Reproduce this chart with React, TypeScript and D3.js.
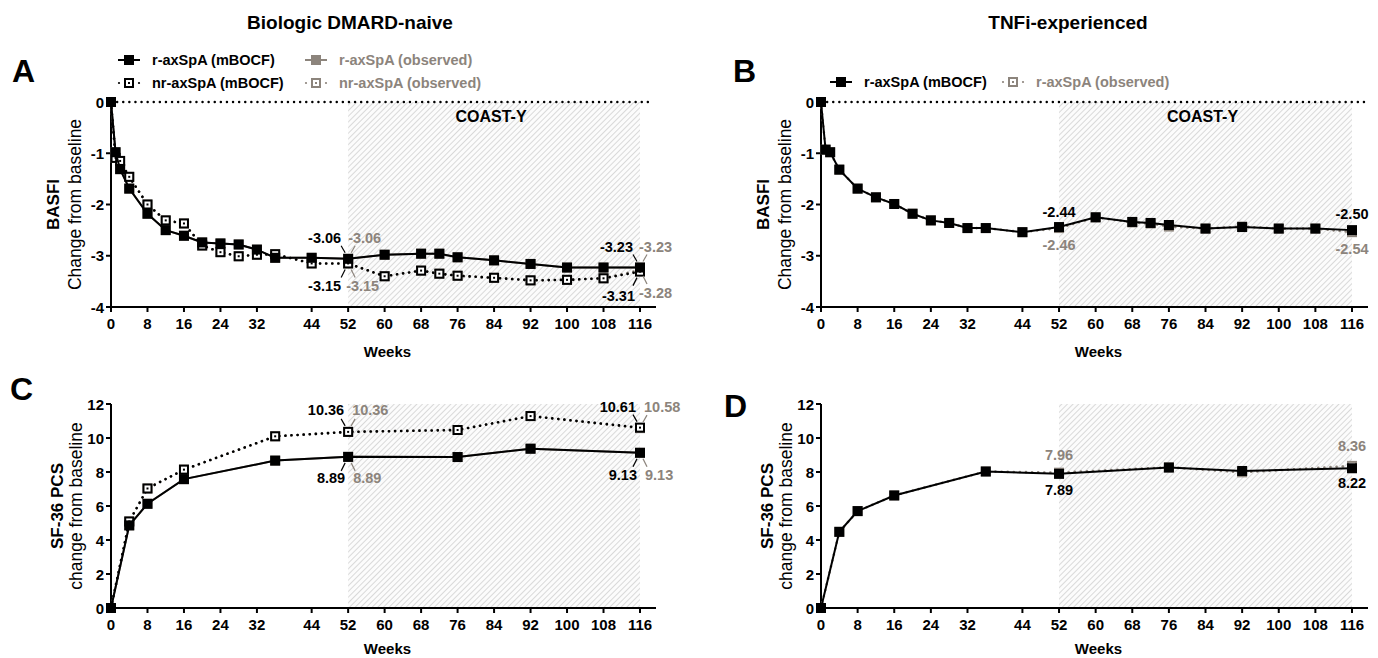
import React from "react";
import * as d3 from "d3";

// ---------- DATA ----------
const weeksLong = [0, 1, 2, 4, 8, 12, 16, 20, 24, 28, 32, 36, 44, 52, 60, 68, 72, 76, 84, 92, 100, 108, 116];
const weeksShort = [0, 4, 8, 16, 36, 52, 76, 92, 116];
const xTickValues = [0, 8, 16, 24, 32, 44, 52, 60, 68, 76, 84, 92, 100, 108, 116];
const basfiTicks = [0, -1, -2, -3, -4];
const sfTicks = [0, 2, 4, 6, 8, 10, 12];

// Panel A (BASFI, biologic DMARD-naive)
const aRMbocf = [0, -0.98, -1.31, -1.69, -2.18, -2.5, -2.61, -2.74, -2.76, -2.78, -2.88, -3.04, -3.04, -3.06, -2.98, -2.96, -2.96, -3.03, -3.09, -3.16, -3.23, -3.23, -3.23];
const aNrMbocf = [0, -1.09, -1.15, -1.46, -2.0, -2.31, -2.37, -2.8, -2.93, -3.01, -2.98, -2.97, -3.15, -3.15, -3.4, -3.29, -3.35, -3.39, -3.43, -3.48, -3.47, -3.44, -3.31];
const aRObs = [0, -0.98, -1.31, -1.69, -2.18, -2.5, -2.61, -2.74, -2.76, -2.78, -2.88, -3.04, -3.04, -3.06, -2.98, -2.96, -2.96, -3.03, -3.09, -3.16, -3.23, -3.23, -3.23];
const aNrObs = [0, -1.09, -1.15, -1.46, -2.0, -2.31, -2.37, -2.8, -2.93, -3.01, -2.98, -2.97, -3.15, -3.15, -3.4, -3.29, -3.35, -3.39, -3.43, -3.48, -3.47, -3.44, -3.28];

// Panel B (BASFI, TNFi-experienced)
const bRMbocf = [0, -0.93, -0.98, -1.32, -1.69, -1.86, -1.99, -2.18, -2.31, -2.36, -2.46, -2.46, -2.54, -2.44, -2.25, -2.34, -2.36, -2.4, -2.47, -2.44, -2.47, -2.47, -2.5];
const bRObs = [0, -0.93, -0.98, -1.32, -1.69, -1.86, -1.99, -2.18, -2.31, -2.36, -2.46, -2.46, -2.54, -2.46, -2.25, -2.35, -2.37, -2.43, -2.47, -2.43, -2.47, -2.47, -2.54];

// Panel C (SF-36 PCS, biologic DMARD-naive)
const cRMbocf = [0, 4.86, 6.13, 7.58, 8.67, 8.89, 8.88, 9.37, 9.13];
const cNrMbocf = [0, 5.09, 7.03, 8.14, 10.1, 10.36, 10.47, 11.29, 10.61];
const cRObs = [0, 4.86, 6.13, 7.58, 8.67, 8.89, 8.88, 9.37, 9.13];
const cNrObs = [0, 5.09, 7.03, 8.14, 10.1, 10.36, 10.47, 11.29, 10.58];

// Panel D (SF-36 PCS, TNFi-experienced)
const dRMbocf = [0, 4.48, 5.7, 6.62, 8.03, 7.89, 8.26, 8.06, 8.22];
const dRObs = [0, 4.48, 5.7, 6.62, 8.03, 7.96, 8.28, 7.98, 8.36];

// ---------- STYLE ----------
const BLACK = "#000";
const GRAY = "#8c847c";
const FONT = "Arial, 'Liberation Sans', Helvetica, sans-serif";

type Series = { weeks: number[]; values: number[]; color: string; open: boolean; dotted: boolean };
type Ann = { week: number; value: number; text: string; color: string; anchor: string; dx: number; dy: number; leader?: [number, number, number, number] };

type PanelProps = {
  x0: number; x1: number; yTop: number; yBot: number;
  yDomain: [number, number]; yTicks: number[];
  series: Series[]; anns: Ann[];
  zeroLine: boolean; coast: boolean; weeksDy: number;
  label1: string; label2: string; lx1: number; lx2: number;
  letter: string; letterX: number; letterY: number;
};

function Marker({ x, y, color, open }: { x: number; y: number; color: string; open: boolean }) {
  const s = 10;
  if (open) {
    return (
      <g>
        <rect x={x - s / 2 + 1} y={y - s / 2 + 1} width={s - 2} height={s - 2} fill="#fff" stroke={color} strokeWidth={2} />
        <rect x={x - 1} y={y - 1} width={2} height={2} fill={color} />
      </g>
    );
  }
  return <rect x={x - s / 2} y={y - s / 2} width={s} height={s} fill={color} />;
}

function Panel(p: PanelProps) {
  const xs = d3.scaleLinear().domain([0, 116]).range([p.x0, p.x1]);
  const ys = d3.scaleLinear().domain(p.yDomain).range([p.yBot, p.yTop]);
  const line = d3.line<[number, number]>().x((d) => xs(d[0])).y((d) => ys(d[1]));
  const axisY = p.yBot;
  const fs = 15;
  const yMid = (p.yTop + p.yBot) / 2;
  return (
    <g>
      {p.coast && (
        <rect x={xs(52)} y={p.yTop} width={xs(116) - xs(52)} height={p.yBot - p.yTop} fill="url(#hatch)" />
      )}
      {p.coast && p.zeroLine && (
        <text x={(xs(52) + xs(116)) / 2 - 3} y={p.yTop + 20} fontSize={16} fontWeight="bold" fontFamily={FONT} textAnchor="middle" fill={BLACK}>COAST-Y</text>
      )}
      {p.zeroLine && (
        <line x1={p.x0} x2={p.x1 + 13} y1={ys(0)} y2={ys(0)} stroke={BLACK} strokeWidth={2.4} strokeDasharray="0.1,6" strokeLinecap="round" />
      )}
      {/* axes */}
      <line x1={p.x0} x2={p.x0} y1={p.yTop} y2={axisY} stroke={BLACK} strokeWidth={2} />
      <line x1={p.x0 - 1} x2={p.x1 + 16} y1={axisY} y2={axisY} stroke={BLACK} strokeWidth={2} />
      {p.yTicks.map((t) => (
        <g key={"yt" + t}>
          <line x1={p.x0 - 5} x2={p.x0} y1={ys(t)} y2={ys(t)} stroke={BLACK} strokeWidth={2} />
          <text x={p.x0 - 7} y={ys(t) + 5.5} fontSize={fs} fontWeight="bold" fontFamily={FONT} textAnchor="end">{t}</text>
        </g>
      ))}
      {xTickValues.map((t) => (
        <g key={"xt" + t}>
          <line x1={xs(t)} x2={xs(t)} y1={axisY} y2={axisY + 5} stroke={BLACK} strokeWidth={2} />
          <text x={xs(t)} y={axisY + 22} fontSize={fs} fontWeight="bold" fontFamily={FONT} textAnchor="middle">{t}</text>
        </g>
      ))}
      <text x={(p.x0 + p.x1) / 2 + 12} y={axisY + p.weeksDy} fontSize={15} fontWeight="bold" fontFamily={FONT} textAnchor="middle">Weeks</text>
      <text transform={`translate(${p.lx1},${yMid}) rotate(-90)`} fontSize={17} fontWeight="bold" fontFamily={FONT} textAnchor="middle">{p.label1}</text>
      <text transform={`translate(${p.lx2},${yMid}) rotate(-90)`} fontSize={17.5} fontFamily={FONT} textAnchor="middle">{p.label2}</text>
      <text x={p.letterX} y={p.letterY} fontSize={32} fontWeight="bold" fontFamily={FONT}>{p.letter}</text>
      {/* series */}
      {p.series.map((s, i) => {
        const pts = s.weeks.map((w, j) => [w, s.values[j]] as [number, number]);
        return (
          <g key={"s" + i}>
            <path d={line(pts) || ""} fill="none" stroke={s.color} strokeWidth={s.dotted ? 2.6 : 2} strokeDasharray={s.dotted ? "0.1,6" : undefined} strokeLinecap="round" />
            {pts.map((d, j) => (
              <Marker key={j} x={xs(d[0])} y={ys(d[1])} color={s.color} open={s.open} />
            ))}
          </g>
        );
      })}
      {/* annotations */}
      {p.anns.map((a, i) => {
        const px = xs(a.week);
        const py = ys(a.value);
        return (
          <g key={"a" + i}>
            {a.leader && (
              <line x1={px + a.leader[0]} y1={py + a.leader[1]} x2={px + a.leader[2]} y2={py + a.leader[3]} stroke={a.color} strokeWidth={1.2} />
            )}
            <text x={px + a.dx} y={py + a.dy} fontSize={14.5} fontWeight="bold" fontFamily={FONT} fill={a.color} textAnchor={a.anchor}>{a.text}</text>
          </g>
        );
      })}
    </g>
  );
}

function LegendItem({ x, y, color, open, dotted, text }: { x: number; y: number; color: string; open: boolean; dotted: boolean; text: string }) {
  return (
    <g>
      {dotted ? (
        <g>
          <circle cx={x + 1} cy={y} r={1.1} fill={color} />
          <circle cx={x + 21} cy={y} r={1.1} fill={color} />
        </g>
      ) : (
        <line x1={x} x2={x + 22} y1={y} y2={y} stroke={color} strokeWidth={2} />
      )}
      <Marker x={x + 11} y={y} color={color} open={open} />
      <text x={x + 34} y={y + 5} fontSize={14.5} fontWeight="bold" fontFamily={FONT} fill={color}>{text}</text>
    </g>
  );
}

export default function App() {
  const leadUL: [number, number, number, number] = [-3, -6, -7, -13];
  const leadUR: [number, number, number, number] = [3, -6, 7, -13];
  const leadDL: [number, number, number, number] = [-3, 6, -7, 14];
  const leadDR: [number, number, number, number] = [3, 6, 7, 14];

  const annsA: Ann[] = [
    { week: 52, value: aRMbocf[13], text: "-3.06", color: BLACK, anchor: "end", dx: -7, dy: -16, leader: leadUL },
    { week: 52, value: aRObs[13], text: "-3.06", color: GRAY, anchor: "start", dx: 0, dy: -16, leader: leadUR },
    { week: 52, value: aNrMbocf[13], text: "-3.15", color: BLACK, anchor: "end", dx: -7, dy: 28, leader: leadDL },
    { week: 52, value: aNrObs[13], text: "-3.15", color: GRAY, anchor: "start", dx: -2, dy: 28, leader: leadDR },
    { week: 116, value: aRMbocf[22], text: "-3.23", color: BLACK, anchor: "end", dx: -7, dy: -16, leader: leadUL },
    { week: 116, value: aRObs[22], text: "-3.23", color: GRAY, anchor: "start", dx: -1, dy: -16, leader: leadUR },
    { week: 116, value: aNrMbocf[22], text: "-3.31", color: BLACK, anchor: "end", dx: -5, dy: 29, leader: leadDL },
    { week: 116, value: aNrObs[22], text: "-3.28", color: GRAY, anchor: "start", dx: -1, dy: 28, leader: leadDR },
  ];
  const annsB: Ann[] = [
    { week: 52, value: bRMbocf[13], text: "-2.44", color: BLACK, anchor: "middle", dx: 0, dy: -10 },
    { week: 52, value: bRObs[13], text: "-2.46", color: GRAY, anchor: "middle", dx: 0, dy: 22 },
    { week: 116, value: bRMbocf[22], text: "-2.50", color: BLACK, anchor: "middle", dx: 0, dy: -11 },
    { week: 116, value: bRObs[22], text: "-2.54", color: GRAY, anchor: "middle", dx: 0, dy: 22 },
  ];
  const annsC: Ann[] = [
    { week: 52, value: cNrMbocf[5], text: "10.36", color: BLACK, anchor: "end", dx: -4, dy: -17, leader: leadUL },
    { week: 52, value: cNrObs[5], text: "10.36", color: GRAY, anchor: "start", dx: 4, dy: -17, leader: leadUR },
    { week: 52, value: cRMbocf[5], text: "8.89", color: BLACK, anchor: "end", dx: -3, dy: 26, leader: leadDL },
    { week: 52, value: cRObs[5], text: "8.89", color: GRAY, anchor: "start", dx: 5, dy: 26, leader: leadDR },
    { week: 116, value: cNrMbocf[8], text: "10.61", color: BLACK, anchor: "end", dx: -4, dy: -16, leader: leadUL },
    { week: 116, value: cNrObs[8], text: "10.58", color: GRAY, anchor: "start", dx: 4, dy: -16, leader: leadUR },
    { week: 116, value: cRMbocf[8], text: "9.13", color: BLACK, anchor: "end", dx: -3, dy: 27, leader: leadDL },
    { week: 116, value: cRObs[8], text: "9.13", color: GRAY, anchor: "start", dx: 5, dy: 27, leader: leadDR },
  ];
  const annsD: Ann[] = [
    { week: 52, value: dRObs[5], text: "7.96", color: GRAY, anchor: "middle", dx: 0, dy: -13 },
    { week: 52, value: dRMbocf[5], text: "7.89", color: BLACK, anchor: "middle", dx: 0, dy: 21 },
    { week: 116, value: dRObs[8], text: "8.36", color: GRAY, anchor: "middle", dx: 0, dy: -15 },
    { week: 116, value: dRMbocf[8], text: "8.22", color: BLACK, anchor: "middle", dx: 0, dy: 20 },
  ];

  return (
    <svg width={1378} height={658} style={{ position: "absolute", left: 0, top: 0, background: "#fff" }}>
      <defs>
        <pattern id="hatch" patternUnits="userSpaceOnUse" width={4} height={4} patternTransform="rotate(45)">
          <rect width={4} height={4} fill="#fcfcfc" />
          <line x1={0} y1={0} x2={0} y2={4} stroke="#cacaca" strokeWidth={1.4} />
        </pattern>
      </defs>
      <rect width={1378} height={658} fill="#fff" />
      <text x={350} y={29} fontSize={19} fontWeight="bold" fontFamily={FONT} textAnchor="middle">Biologic DMARD-naive</text>
      <text x={1068} y={29} fontSize={19} fontWeight="bold" fontFamily={FONT} textAnchor="middle">TNFi-experienced</text>

      <LegendItem x={118} y={60} color={BLACK} open={false} dotted={false} text="r-axSpA (mBOCF)" />
      <LegendItem x={118} y={83} color={BLACK} open={true} dotted={true} text="nr-axSpA (mBOCF)" />
      <LegendItem x={305} y={60} color={GRAY} open={false} dotted={false} text="r-axSpA (observed)" />
      <LegendItem x={305} y={83} color={GRAY} open={true} dotted={true} text="nr-axSpA (observed)" />
      <LegendItem x={830} y={82} color={BLACK} open={false} dotted={false} text="r-axSpA (mBOCF)" />
      <LegendItem x={1002} y={82} color={GRAY} open={true} dotted={true} text="r-axSpA (observed)" />

      <Panel x0={111} x1={640} yTop={102} yBot={307} yDomain={[-4, 0]} yTicks={basfiTicks}
        series={[
          { weeks: weeksLong, values: aNrObs, color: GRAY, open: true, dotted: true },
          { weeks: weeksLong, values: aRObs, color: GRAY, open: false, dotted: false },
          { weeks: weeksLong, values: aNrMbocf, color: BLACK, open: true, dotted: true },
          { weeks: weeksLong, values: aRMbocf, color: BLACK, open: false, dotted: false },
        ]}
        anns={annsA} zeroLine={true} coast={true} weeksDy={50}
        label1="BASFI" label2="Change from baseline" lx1={59} lx2={81}
        letter="A" letterX={12} letterY={82} />
      <Panel x0={821} x1={1352} yTop={102} yBot={307} yDomain={[-4, 0]} yTicks={basfiTicks}
        series={[
          { weeks: weeksLong, values: bRObs, color: GRAY, open: true, dotted: true },
          { weeks: weeksLong, values: bRMbocf, color: BLACK, open: false, dotted: false },
        ]}
        anns={annsB} zeroLine={true} coast={true} weeksDy={50}
        label1="BASFI" label2="Change from baseline" lx1={769} lx2={791}
        letter="B" letterX={733} letterY={82} />
      <Panel x0={111} x1={640} yTop={404} yBot={608} yDomain={[0, 12]} yTicks={sfTicks}
        series={[
          { weeks: weeksShort, values: cNrObs, color: GRAY, open: true, dotted: true },
          { weeks: weeksShort, values: cRObs, color: GRAY, open: false, dotted: false },
          { weeks: weeksShort, values: cNrMbocf, color: BLACK, open: true, dotted: true },
          { weeks: weeksShort, values: cRMbocf, color: BLACK, open: false, dotted: false },
        ]}
        anns={annsC} zeroLine={false} coast={true} weeksDy={46}
        label1="SF-36 PCS" label2="change from baseline" lx1={63} lx2={82}
        letter="C" letterX={10} letterY={400} />
      <Panel x0={821} x1={1352} yTop={404} yBot={608} yDomain={[0, 12]} yTicks={sfTicks}
        series={[
          { weeks: weeksShort, values: dRObs, color: GRAY, open: true, dotted: true },
          { weeks: weeksShort, values: dRMbocf, color: BLACK, open: false, dotted: false },
        ]}
        anns={annsD} zeroLine={false} coast={true} weeksDy={46}
        label1="SF-36 PCS" label2="change from baseline" lx1={773} lx2={792}
        letter="D" letterX={724} letterY={417} />
    </svg>
  );
}
